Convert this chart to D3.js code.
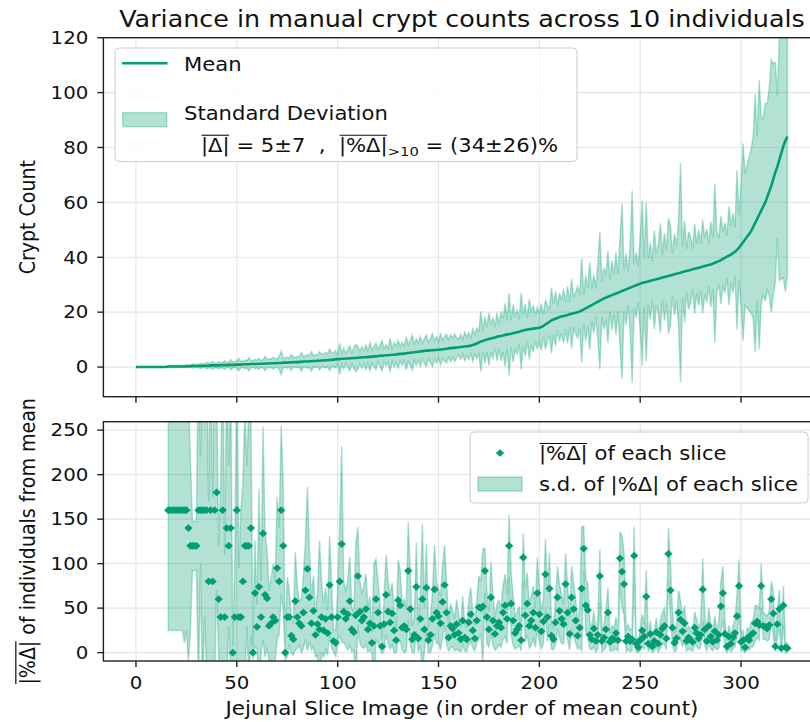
<!DOCTYPE html>
<html><head><meta charset="utf-8">
<script src="https://cdn.jsdelivr.net/npm/d3@7"></script>
<style>body{margin:0;background:#fff;} svg{display:block;font-family:"DejaVu Sans",sans-serif;}</style>
</head><body><svg id="c" width="810" height="722"></svg>
<script>
// ---------- DATA ----------
const titleText = "Variance in manual crypt counts across 10 individuals";
const xTicks = [0, 50, 100, 150, 200, 250, 300];
const yTicksTop = [0, 20, 40, 60, 80, 100, 120];
const yTicksBottom = [0, 50, 100, 150, 200, 250];

// mean crypt count of each slice (slices ordered by mean)
const meanCount = [
0,0,0,0,0,0,0,0,0,0,0,0,0,0,0,0,0.2,0.2,0.2,0.2,
0.2,0.2,0.2,0.2,0.2,0.3,0.3,0.3,0.4,0.4,0.4,0.4,0.4,0.5,0.5,0.5,0.5,0.6,0.6,0.6,
0.6,0.6,0.7,0.7,0.7,0.7,0.8,0.8,0.8,0.8,0.9,0.9,0.9,1.0,1.0,1.0,1.0,1.1,1.1,1.1,
1.1,1.2,1.2,1.2,1.3,1.3,1.3,1.4,1.4,1.4,1.5,1.5,1.5,1.6,1.6,1.6,1.7,1.7,1.8,1.8,
1.8,1.9,1.9,2.0,2.0,2.0,2.1,2.1,2.2,2.2,2.3,2.3,2.4,2.4,2.5,2.5,2.6,2.6,2.7,2.8,
2.9,2.9,3.0,3.0,3.1,3.1,3.2,3.2,3.3,3.3,3.4,3.5,3.5,3.6,3.6,3.7,3.7,3.8,3.9,3.9,
4.0,4.1,4.1,4.2,4.3,4.3,4.4,4.5,4.5,4.6,4.7,4.8,4.8,4.9,5.0,5.1,5.2,5.3,5.4,5.5,
5.6,5.7,5.8,5.9,6.0,6.0,6.1,6.1,6.2,6.2,6.3,6.4,6.5,6.6,6.7,6.8,6.9,7.0,7.0,7.1,
7.2,7.3,7.4,7.5,7.6,7.7,7.8,8.0,8.3,8.6,9.0,9.3,9.5,9.8,10.0,10.2,10.4,10.6,10.8,11.0,
11.2,11.3,11.5,11.7,11.9,12.0,12.1,12.3,12.5,12.7,12.9,13.1,13.3,13.5,13.7,13.8,13.9,14.0,14.1,14.2,
14.3,14.6,15.0,15.5,16.0,16.5,17.0,17.3,17.6,17.9,18.2,18.4,18.6,18.8,19.0,19.2,19.4,19.6,19.8,20.0,
20.3,20.6,21.0,21.4,21.8,22.2,22.6,23.0,23.4,23.8,24.2,24.6,25.0,25.3,25.6,25.9,26.2,26.5,26.8,27.1,
27.4,27.7,28.0,28.3,28.6,28.9,29.2,29.5,29.8,30.1,30.4,30.6,30.8,31.0,31.2,31.4,31.6,31.8,32.0,32.2,
32.4,32.6,32.8,33.0,33.2,33.4,33.6,33.8,34.0,34.2,34.4,34.6,34.8,35.0,35.2,35.4,35.6,35.8,36.0,36.2,
36.4,36.6,36.8,37.0,37.2,37.4,37.7,38.0,38.3,38.6,39.0,39.4,39.8,40.2,40.6,41.0,41.5,42.0,42.7,43.5,
44.5,45.5,46.5,47.5,48.5,49.5,51.0,52.5,54.0,55.5,57.0,58.5,60.0,62.0,64.0,66.0,68.5,71.0,73.0,75.5,
78.0,80.5,82.5,84.0];

// standard deviation of the 10 individual counts for each slice
const sdCount = [
0,0,0,0,0,0,0,0,0,0,0,0,0,0,0,0,0.4,0.4,0.4,0.4,
0.4,0.4,0.4,0.4,0.4,0.5,0.5,0.5,0.8,0.5,0.5,0.7,0.9,0.7,0.7,1.2,0.8,0.9,1.4,0.8,
0.9,1.3,0.9,1.0,1.6,0.9,1.0,1.8,1.1,1.0,1.4,2.2,1.2,1.1,1.6,1.3,2.4,1.3,1.2,1.7,
1.4,2.0,1.3,1.5,2.6,1.4,1.7,1.5,2.2,1.6,1.5,2.4,4.3,1.8,1.7,2.0,1.6,2.9,1.9,1.7,
2.1,1.8,3.4,2.0,1.9,2.5,2.2,3.6,2.0,2.3,2.1,3.3,2.4,2.2,2.9,2.3,3.9,2.5,2.4,3.1,
1.8,5.7,2.0,3.8,1.9,3.2,4.5,2.1,3.6,5.0,4.2,2.2,3.9,2.5,4.6,2.3,5.2,2.4,3.6,4.8,
2.2,4.0,5.6,2.5,3.8,2.6,6.2,2.4,4.4,3.0,5.0,2.7,4.2,2.8,6.0,3.1,4.6,6.4,2.9,4.8,
3.2,5.4,2.9,4.6,5.8,3.0,4.4,6.0,3.3,4.8,3.1,5.6,3.4,4.5,5.2,3.2,4.9,3.5,5.0,3.6,
3.0,4.6,2.8,5.2,3.4,4.8,2.9,6.0,3.6,5.5,4.2,11.0,3.8,8.5,4.6,9.6,5.0,7.4,3.8,8.8,
4.5,9.0,6.0,11.5,5.2,15.0,4.8,10.5,6.2,8.0,4.6,14.0,5.5,9.5,4.2,11.0,6.0,8.4,4.8,7.6,
5.2,8.6,4.0,9.0,6.4,4.8,12.0,5.6,10.0,4.4,8.8,6.0,9.8,5.0,10.5,4.6,12.6,5.8,7.6,9.4,
6.2,19.0,5.4,12.0,7.0,16.0,6.0,10.8,5.2,13.6,25.0,6.4,11.2,8.0,16.8,5.8,12.6,7.2,15.0,6.8,
20.0,32.0,7.4,13.0,6.2,15.4,35.0,8.0,12.0,6.6,17.2,30.0,9.0,29.0,8.4,14.0,7.0,18.0,9.4,12.4,
20.0,8.2,16.0,9.6,21.0,18.0,7.6,14.8,10.0,19.0,40.0,9.2,18.6,8.0,14.2,12.0,7.4,16.4,9.0,13.8,
8.6,17.0,10.2,13.4,7.8,15.6,9.6,29.0,11.0,8.4,16.0,9.8,12.8,7.6,18.0,10.4,14.6,8.8,29.0,12.0,
22.0,36.0,24.0,26.0,28.0,30.0,33.0,47.0,30.0,49.0,34.0,32.0,36.0,34.0,38.0,46.0,42.0,40.0,26.0,44.0,
46.0,48.0,55.0,50.0];

// mean |%Δ| of the individuals from the mean, per slice (undefined where mean = 0)
const pctDev = [
null,null,null,null,null,null,null,null,null,null,null,null,null,null,null,null,160,160,160,160,
160,160,160,160,160,160,140,120,120,120,120,160,160,160,160,160,80,160,80,160,
180,60,40,160,40,140,120,140,0,40,160,40,40,80,120,120,120,140,0,67,
29,74,40,134,65,61,30,33,40,36,95,80,160,120,0,40,40,19,15,58,
40,33,30,45,70,94,62,33,47,20,32,26,40,25,38,22,76,40,13,11,
40,80,122,46,38,43,58,26,23,42,86,46,36,40,49,26,33,11,30,60,
45,30,7,32,65,46,34,44,25,14,59,53,28,30,26,92,49,15,20,74,
16,38,60,26,73,14,20,38,71,45,41,33,57,76,45,17,30,27,20,32,
22,15,36,17,15,34,43,25,16,36,51,50,52,92,40,26,62,36,21,30,
34,28,45,53,38,120,55,36,22,26,30,14,107,42,55,30,36,45,28,67,
43,24,35,88,40,72,19,15,34,62,47,38,32,77,45,21,62,49,36,19,
28,72,117,53,48,20,15,27,13,20,86,13,17,26,45,12,16,15,22,14,
106,91,77,13,18,13,15,109,10,6,14,25,18,63,10,21,7,13,23,10,
20,27,30,16,111,70,28,11,16,45,37,24,33,13,17,14,12,28,22,16,
20,71,26,13,30,18,12,24,14,20,52,67,21,7,18,10,17,22,41,75,
12,14,6,16,14,20,22,33,35,31,75,30,29,27,31,60,44,7,32,49,
5,53,6,5];

// s.d. of |%Δ| per slice
const pctDevSd = [
null,null,null,null,null,null,null,null,null,null,null,null,null,null,null,null,135,135,135,135,
135,135,135,135,149,135,150,95,28,28,27,200,60,210,120,180,90,200,95,190,
110,60,150,200,70,180,90,160,8,60,190,55,120,110,150,90,160,120,8,60,
25,110,40,120,70,55,40,50,60,45,80,60,95,70,8,45,30,20,18,55,
35,25,30,40,55,92,50,30,40,25,35,100,40,30,35,25,55,35,12,15,
30,60,110,35,30,40,50,25,20,80,55,35,30,35,40,25,30,12,70,45,
35,25,8,30,45,35,30,35,25,14,45,40,25,30,25,55,40,15,20,50,
15,30,85,25,50,14,20,30,50,35,30,30,40,45,35,15,25,20,18,28,
20,14,28,15,14,25,30,20,14,25,35,30,65,25,30,20,40,28,18,25,
25,22,30,35,28,35,35,28,18,20,22,12,27,30,35,25,28,30,22,40,
30,20,25,40,28,40,15,12,25,35,30,28,22,35,30,18,35,30,25,15,
22,70,25,30,30,16,12,20,12,16,30,12,14,20,28,10,14,12,18,12,
30,40,35,12,14,12,13,33,9,6,12,18,14,30,9,15,7,11,16,9,
15,18,20,13,29,30,20,10,13,25,22,17,20,11,13,11,10,18,15,12,
14,35,18,11,20,14,10,17,11,15,28,30,15,7,13,9,13,15,24,30,
10,11,6,12,11,14,15,20,18,17,25,15,14,14,16,20,25,6,15,22,
5,22,6,5];

// ---------- STYLE / LAYOUT ----------
const GREEN = "#029e73";
const TXT = "#111";
const SX = 1.13;            // horizontal stretch of the reference rendering
const FS_TICK = 17.5, FS_LEG = 18.7, FS_LAB = 19, FS_TITLE = 22.5;
const idx = d3.range(meanCount.length);

const svg = d3.select("#c");
const x = d3.scaleLinear().domain([-16.15, 339.15]).range([103.4, 820]);
const yTop = d3.scaleLinear().domain([-10.8, 120]).range([396.7, 37.7]);
const yBot = d3.scaleLinear().domain([-9.4, 259.5]).range([661, 421.7]);

function stext(parent, tx, ty, str, size, anchor, rot) {
  const g = parent.append("g").attr("transform", `translate(${tx},${ty}) scale(${SX},1)` + (rot ? ` rotate(${rot})` : ""));
  g.append("text").attr("font-size", size).attr("fill", TXT).attr("text-anchor", anchor || "start")
    .style("white-space", "pre").text(str);
  return g;
}
function rich(parent, tx, ty, segs, size, anchor, rot) {
  const g = parent.append("g").attr("transform", `translate(${tx},${ty}) scale(${SX},1)` + (rot ? ` rotate(${rot})` : ""));
  const inner = g.append("g");
  let cx = 0;
  segs.forEach(s => {
    const fs = s.sub ? size * 0.7 : size;
    const t = inner.append("text").attr("x", cx).attr("y", s.sub ? size * 0.24 : 0)
      .attr("font-size", fs).attr("fill", TXT).style("white-space", "pre").text(s.t);
    const w = t.node().getComputedTextLength();
    if (s.over) {
      inner.append("line").attr("x1", cx + 0.5).attr("x2", cx + w - 0.5)
        .attr("y1", -size * 0.87).attr("y2", -size * 0.87)
        .attr("stroke", TXT).attr("stroke-width", 1.1);
    }
    cx += w;
  });
  if (anchor === "middle") inner.attr("transform", `translate(${-cx / 2},0)`);
  return g;
}

function panel(y, yTicks, clipId) {
  const [r0, r1] = y.range();
  const [xl, xr] = x.range();
  const g = svg.append("g");
  svg.append("clipPath").attr("id", clipId).append("rect")
    .attr("x", xl).attr("y", r1).attr("width", xr - xl).attr("height", r0 - r1);
  g.selectAll(".gx").data(xTicks).join("line")
    .attr("x1", d => x(d)).attr("x2", d => x(d)).attr("y1", r1).attr("y2", r0)
    .attr("stroke", "#e6e6e6").attr("stroke-width", 1.2);
  g.selectAll(".gy").data(yTicks).join("line")
    .attr("x1", xl).attr("x2", xr).attr("y1", d => y(d)).attr("y2", d => y(d))
    .attr("stroke", "#e6e6e6").attr("stroke-width", 1.2);
  const data = g.append("g").attr("clip-path", `url(#${clipId})`);
  return { g, data, r0, r1, xl, xr };
}
function frame(p, y, yTicks, showXLabels) {
  const { r0, r1, xl, xr } = p;
  const ax = svg.append("g");
  ax.append("rect").attr("x", xl).attr("y", r1).attr("width", xr - xl).attr("height", r0 - r1)
    .attr("fill", "none").attr("stroke", "#222").attr("stroke-width", 1.4);
  ax.selectAll(".ty").data(yTicks).join("line")
    .attr("x1", xl - 6.1).attr("x2", xl).attr("y1", d => y(d)).attr("y2", d => y(d))
    .attr("stroke", "#222").attr("stroke-width", 1.4);
  ax.selectAll(".tx").data(xTicks).join("line")
    .attr("x1", d => x(d)).attr("x2", d => x(d)).attr("y1", r0).attr("y2", r0 + 6.1)
    .attr("stroke", "#222").attr("stroke-width", 1.4);
  yTicks.forEach(t => stext(ax, xl - 15.1, y(t) + FS_TICK * 0.36, String(t), FS_TICK, "end"));
  if (showXLabels) xTicks.forEach(t => stext(ax, x(t), r0 + 28.3, String(t), FS_TICK, "middle"));
  return ax;
}

// ---------- TOP PANEL ----------
const pTop = panel(yTop, yTicksTop, "clipTop");
pTop.data.append("path")
  .datum(idx)
  .attr("d", d3.area().x(i => x(i)).y0(i => yTop(meanCount[i] - sdCount[i])).y1(i => yTop(meanCount[i] + sdCount[i])))
  .attr("fill", GREEN).attr("fill-opacity", 0.3)
  .attr("stroke", GREEN).attr("stroke-opacity", 0.3).attr("stroke-width", 1.5);
pTop.data.append("path")
  .datum(idx)
  .attr("d", d3.line().x(i => x(i)).y(i => yTop(meanCount[i])))
  .attr("fill", "none").attr("stroke", GREEN).attr("stroke-width", 2.6);
frame(pTop, yTop, yTicksTop, false);

// ---------- BOTTOM PANEL ----------
const pBot = panel(yBot, yTicksBottom, "clipBot");
pBot.data.append("path")
  .datum(idx)
  .attr("d", d3.area().defined(i => pctDev[i] != null)
    .x(i => x(i)).y0(i => yBot(pctDev[i] - pctDevSd[i])).y1(i => yBot(pctDev[i] + pctDevSd[i])))
  .attr("fill", GREEN).attr("fill-opacity", 0.3)
  .attr("stroke", GREEN).attr("stroke-opacity", 0.3).attr("stroke-width", 1.5);
const diamond = d3.symbol(d3.symbolSquare, 30)();
pBot.data.selectAll(".pt").data(idx.filter(i => pctDev[i] != null)).join("path")
  .attr("d", diamond)
  .attr("transform", i => `translate(${x(i)},${yBot(pctDev[i])}) scale(1.08,1) rotate(45)`)
  .attr("fill", GREEN);
frame(pBot, yBot, yTicksBottom, true);

// ---------- TEXT ----------
stext(svg, 462, 27.3, titleText, FS_TITLE, "middle");
stext(svg, 34.5, (yTop.range()[0] + yTop.range()[1]) / 2, "Crypt Count", FS_LAB, "middle", -90);
rich(svg, 34.5, (yBot.range()[0] + yBot.range()[1]) / 2,
  [{ t: "|%Δ|", over: true }, { t: " of individuals from mean" }], FS_LAB, "middle", -90);
stext(svg, 462, 714.5, "Jejunal Slice Image (in order of mean count)", FS_LAB, "middle");

// ---------- LEGENDS ----------
const lg1 = svg.append("g");
lg1.append("rect").attr("x", 115).attr("y", 48).attr("width", 462).attr("height", 113.5).attr("rx", 4)
  .attr("fill", "#fff").attr("fill-opacity", 0.8).attr("stroke", "#cccccc").attr("stroke-width", 1);
lg1.append("line").attr("x1", 122).attr("x2", 167.5).attr("y1", 63.3).attr("y2", 63.3)
  .attr("stroke", GREEN).attr("stroke-width", 2.6);
stext(lg1, 184, 70.6, "Mean", FS_LEG);
lg1.append("rect").attr("x", 122.7).attr("y", 112.7).attr("width", 44).attr("height", 14)
  .attr("fill", GREEN).attr("fill-opacity", 0.3).attr("stroke", GREEN).attr("stroke-opacity", 0.3).attr("stroke-width", 1.5);
stext(lg1, 184, 120.2, "Standard Deviation", FS_LEG);
rich(lg1, 201, 151.5, [
  { t: "|Δ|", over: true }, { t: " = 5±7  ,  " }, { t: "|%Δ|", over: true }, { t: ">10", sub: true }, { t: " = (34±26)%" }
], FS_LEG);

const lg2 = svg.append("g");
lg2.append("rect").attr("x", 470).attr("y", 432).attr("width", 338).attr("height", 71).attr("rx", 4)
  .attr("fill", "#fff").attr("fill-opacity", 0.8).attr("stroke", "#cccccc").attr("stroke-width", 1);
lg2.append("path").attr("d", diamond).attr("transform", `translate(500,453) scale(1.08,1) rotate(45)`).attr("fill", GREEN);
rich(lg2, 539, 459.8, [{ t: "|%Δ|", over: true }, { t: " of each slice" }], FS_LEG);
lg2.append("rect").attr("x", 478).attr("y", 477).attr("width", 44).attr("height", 14)
  .attr("fill", GREEN).attr("fill-opacity", 0.3).attr("stroke", GREEN).attr("stroke-opacity", 0.3).attr("stroke-width", 1.5);
stext(lg2, 539, 490.6, "s.d. of |%Δ| of each slice", FS_LEG);
</script></body></html>
